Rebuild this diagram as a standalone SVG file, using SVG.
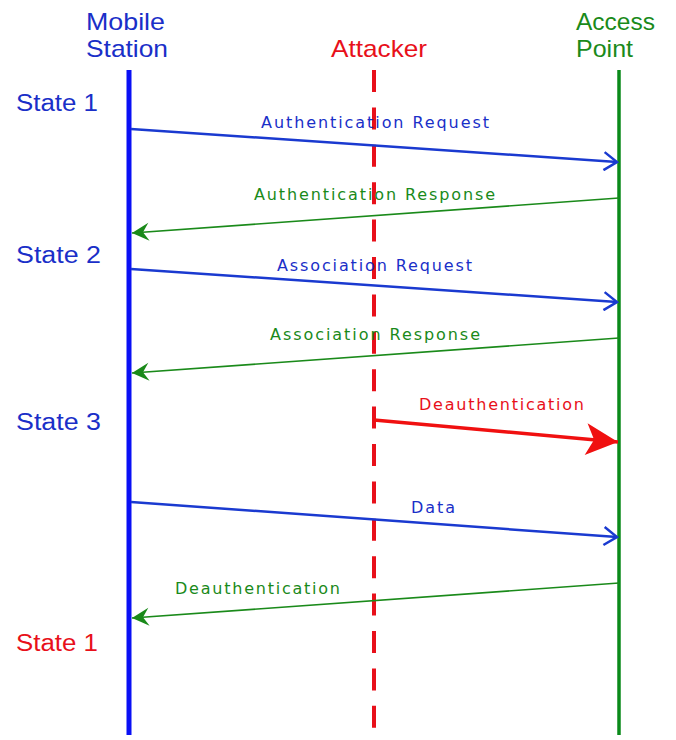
<svg xmlns="http://www.w3.org/2000/svg" width="676" height="740" viewBox="0 0 676 740">
<style>
.hdr{font-family:"Liberation Sans",Arial,sans-serif;font-size:24px}
.st{font-family:"Liberation Sans",Arial,sans-serif;font-size:23px}
.lbl{font-family:"DejaVu Sans",Verdana,sans-serif;font-size:16px}
.blue{fill:#1a2fc8}
.green{fill:#1a8a1a}
.red{fill:#e8101a}
.mb{stroke:#1a3ad0;stroke-width:2.5;fill:none}
.mg{stroke:#1a8a1a;stroke-width:1.6;fill:none}
.mr{stroke:#f01010;stroke-width:3.5;fill:none}
</style>
<defs>
<marker id="ab" markerUnits="userSpaceOnUse" viewBox="-16 -10 18 20" refX="0" refY="0" markerWidth="18" markerHeight="20" orient="auto">
<path d="M-13,-9 L0,0 L-13,9" stroke="#1a3ad0" stroke-width="2.5" fill="none"/>
</marker>
<marker id="ag" markerUnits="userSpaceOnUse" viewBox="-20 -11 22 22" refX="0" refY="0" markerWidth="22" markerHeight="22" orient="auto">
<path d="M0,0 L-17,-9 L-11,0 L-17,9 Z" fill="#1a8a1a"/>
</marker>
<marker id="ar" markerUnits="userSpaceOnUse" viewBox="-38 -18 40 36" refX="0" refY="0" markerWidth="40" markerHeight="36" orient="auto">
<path d="M0,0 L-32,-16 L-24,0 L-32,16 Z" fill="#f01010"/>
</marker>
</defs>
<rect width="676" height="740" fill="#ffffff"/>

<g id="mobile-station">
<text class="hdr blue" x="86" y="30" textLength="79" lengthAdjust="spacingAndGlyphs">Mobile</text>
<text class="hdr blue" x="86" y="57" textLength="82" lengthAdjust="spacingAndGlyphs">Station</text>
<line x1="129" y1="70" x2="129" y2="735" stroke="#0a10f5" stroke-width="5"/>
</g>
<g id="attacker">
<text class="hdr red" x="331" y="57" textLength="96" lengthAdjust="spacingAndGlyphs">Attacker</text>
<line x1="374" y1="70" x2="374" y2="735" stroke="#e8101a" stroke-width="4" stroke-dasharray="22 15.4"/>
</g>
<g id="access-point">
<text class="hdr green" x="576" y="30" textLength="79" lengthAdjust="spacingAndGlyphs">Access</text>
<text class="hdr green" x="576" y="57" textLength="57" lengthAdjust="spacingAndGlyphs">Point</text>
<line x1="619" y1="70" x2="619" y2="735" stroke="#0a8a1a" stroke-width="3.5"/>
</g>

<g id="states">
<text class="st blue" x="16" y="111" textLength="82" lengthAdjust="spacingAndGlyphs">State 1</text>
<text class="st blue" x="16" y="263" textLength="85" lengthAdjust="spacingAndGlyphs">State 2</text>
<text class="st blue" x="16" y="430" textLength="85" lengthAdjust="spacingAndGlyphs">State 3</text>
<text class="st red" x="16" y="651" textLength="82" lengthAdjust="spacingAndGlyphs">State 1</text>
</g>

<g id="connectors">
<line class="mb" x1="131" y1="129" x2="617" y2="162" marker-end="url(#ab)"/>
<text class="lbl blue" x="261" y="128" textLength="228" lengthAdjust="spacing">Authentication Request</text>
<line class="mg" x1="619" y1="198" x2="132" y2="233" marker-end="url(#ag)"/>
<text class="lbl green" x="254" y="200" textLength="241" lengthAdjust="spacing">Authentication Response</text>
<line class="mb" x1="131" y1="269" x2="617" y2="302" marker-end="url(#ab)"/>
<text class="lbl blue" x="277" y="271" textLength="195" lengthAdjust="spacing">Association Request</text>
<line class="mg" x1="619" y1="338" x2="132" y2="373" marker-end="url(#ag)"/>
<text class="lbl green" x="270" y="340" textLength="210" lengthAdjust="spacing">Association Response</text>
<line class="mr" x1="374" y1="420" x2="618" y2="442" marker-end="url(#ar)"/>
<text class="lbl red" x="419" y="410" textLength="165" lengthAdjust="spacing">Deauthentication</text>
<line class="mb" x1="131" y1="502" x2="617" y2="537" marker-end="url(#ab)"/>
<text class="lbl blue" x="411" y="513" textLength="44" lengthAdjust="spacing">Data</text>
<line class="mg" x1="619" y1="583" x2="132" y2="618" marker-end="url(#ag)"/>
<text class="lbl green" x="175" y="594" textLength="165" lengthAdjust="spacing">Deauthentication</text>
</g>
</svg>
